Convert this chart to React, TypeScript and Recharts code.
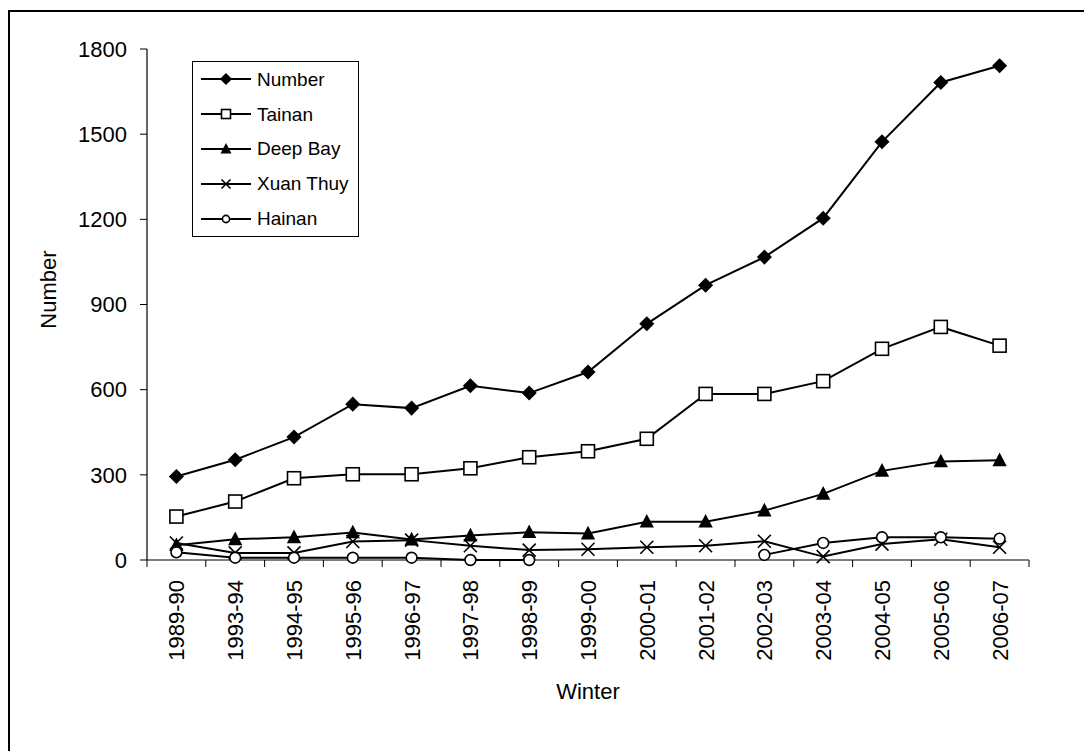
import React from "react";
import { LineChart, Line, XAxis, YAxis, Legend } from "recharts";

// winters surveyed
const winters = [
  "1989-90", "1993-94", "1994-95", "1995-96", "1996-97", "1997-98", "1998-99", "1999-00",
  "2000-01", "2001-02", "2002-03", "2003-04", "2004-05", "2005-06", "2006-07",
];

// counts per site (null = not counted)
const totalNumber = [294, 353, 433, 549, 535, 614, 588, 662, 832, 968, 1067, 1204, 1473, 1682, 1741];
const tainan = [153, 206, 288, 302, 302, 323, 362, 383, 427, 585, 585, 630, 744, 821, 755];
const deepBay = [52, 73, 80, 97, 72, 86, 98, 93, 135, 135, 174, 233, 314, 347, 351];
const xuanThuy = [60, 25, 25, 65, 70, 50, 35, 38, 45, 50, 66, 12, 56, 73, 45];
const hainan = [27, 8, 8, 8, 8, 0, 0, null, null, null, 18, 60, 80, 80, 75];

const yTicks = [0, 300, 600, 900, 1200, 1500, 1800];

const series = [
  { key: "number", name: "Number", values: totalNumber, shape: "diamond" },
  { key: "tainan", name: "Tainan", values: tainan, shape: "square" },
  { key: "deepBay", name: "Deep Bay", values: deepBay, shape: "triangle" },
  { key: "xuanThuy", name: "Xuan Thuy", values: xuanThuy, shape: "cross" },
  { key: "hainan", name: "Hainan", values: hainan, shape: "circle" },
];

const rows = winters.map((w, i) => {
  const row: any = { winter: w };
  series.forEach((s) => (row[s.key] = s.values[i]));
  return row;
});

const FONT = "'Liberation Sans', Arial, sans-serif";
const W = 1084;
const H = 751;
const MARGIN = { top: 49, right: 55, left: 0, bottom: 0 };
const Y_AXIS_W = 147;
const X_AXIS_H = 191;
const TICK_SIZE = 7;
const TICK_GAP = 13;
const BAND = (W - MARGIN.left - MARGIN.right - Y_AXIS_W) / winters.length;

// plot markers and legend markers share one drawing
const plotSize: any = { diamond: 13, square: 13, triangle: 13, cross: 13, circle: 12 };
const legendSize: any = { diamond: 10.5, square: 9, triangle: 10, cross: 9, circle: 8 };

const Marker = ({ cx, cy, shape, size }: any) => {
  if (cx == null || cy == null) return <g />;
  const s = size;
  switch (shape) {
    case "diamond":
      return (
        <polygon
          points={`${cx},${cy - s * 0.58} ${cx + s * 0.58},${cy} ${cx},${cy + s * 0.58} ${cx - s * 0.58},${cy}`}
          fill="#000"
        />
      );
    case "square":
      return (
        <rect x={cx - s / 2} y={cy - s / 2} width={s} height={s} fill="#fff" stroke="#000" strokeWidth={1.6} />
      );
    case "triangle":
      return (
        <polygon
          points={`${cx},${cy - s * 0.6} ${cx + s * 0.55},${cy + s * 0.45} ${cx - s * 0.55},${cy + s * 0.45}`}
          fill="#000"
        />
      );
    case "cross":
      return (
        <g stroke="#000" strokeWidth={1.6}>
          <line x1={cx - s / 2} y1={cy - s / 2} x2={cx + s / 2} y2={cy + s / 2} />
          <line x1={cx - s / 2} y1={cy + s / 2} x2={cx + s / 2} y2={cy - s / 2} />
        </g>
      );
    default:
      return <circle cx={cx} cy={cy} r={s * 0.45} fill="#fff" stroke="#000" strokeWidth={1.6} />;
  }
};

const XTick = (props: any) => {
  const { x, y, payload, index } = props;
  const axisY = y - TICK_SIZE - TICK_GAP;
  const left = x - BAND / 2;
  return (
    <g>
      <line x1={left} y1={axisY} x2={left} y2={axisY + TICK_SIZE} stroke="#000" />
      {index === winters.length - 1 && (
        <line x1={x + BAND / 2} y1={axisY} x2={x + BAND / 2} y2={axisY + TICK_SIZE} stroke="#000" />
      )}
      <text
        transform={`translate(${x},${y}) rotate(-90)`}
        textAnchor="end"
        dy="0.36em"
        fill="#000"
        fontSize={22}
        fontFamily={FONT}
      >
        {payload.value}
      </text>
    </g>
  );
};

const renderYTitle = ({ viewBox }: any) => {
  const cx = viewBox.x + 48;
  const cy = viewBox.y + viewBox.height / 2 - 15;
  return (
    <text
      x={cx}
      y={cy}
      transform={`rotate(-90 ${cx} ${cy})`}
      textAnchor="middle"
      dominantBaseline="central"
      fontSize={22}
      fontFamily={FONT}
      fill="#000"
    >
      Number
    </text>
  );
};

const renderXTitle = ({ viewBox }: any) => (
  <text
    x={viewBox.x + viewBox.width / 2}
    y={viewBox.y + 131}
    textAnchor="middle"
    dominantBaseline="central"
    fontSize={22}
    fontFamily={FONT}
    fill="#000"
  >
    Winter
  </text>
);

const renderLegend = () => (
  <div
    style={{
      border: "1px solid #000",
      background: "#fff",
      width: 165,
      height: 174,
      boxSizing: "content-box",
      fontFamily: FONT,
      fontSize: 19,
    }}
  >
    {series.map((s) => (
      <div key={s.key} style={{ display: "flex", alignItems: "center", height: 34.8 }}>
        <svg width={64} height={20} style={{ flex: "none" }}>
          <line x1={8} y1={10} x2={58} y2={10} stroke="#000" strokeWidth={1.8} />
          <Marker cx={33} cy={10} shape={s.shape} size={legendSize[s.shape]} />
        </svg>
        <span style={{ color: "#000", lineHeight: 1 }}>{s.name}</span>
      </div>
    ))}
  </div>
);

export default function App() {
  return (
    <div style={{ position: "absolute", left: 0, top: 0, width: W, height: H, background: "#fff" }}>
      <div
        style={{
          position: "absolute",
          left: 8,
          top: 10,
          right: 0,
          bottom: 0,
          borderLeft: "2px solid #000",
          borderTop: "2px solid #000",
        }}
      />
      <div style={{ position: "absolute", left: 0, top: 0 }}>
        <LineChart width={W} height={H} data={rows} margin={MARGIN}>
          <XAxis
            dataKey="winter"
            height={X_AXIS_H}
            interval={0}
            padding={{ left: BAND / 2, right: BAND / 2 }}
            tickSize={TICK_SIZE}
            tickMargin={TICK_GAP}
            tickLine={false}
            axisLine={{ stroke: "#000", strokeWidth: 1.2 }}
            tick={<XTick />}
            label={renderXTitle}
          />
          <YAxis
            width={Y_AXIS_W}
            domain={[0, 1800]}
            ticks={yTicks}
            interval={0}
            tickSize={TICK_SIZE}
            tickMargin={TICK_GAP}
            axisLine={{ stroke: "#000", strokeWidth: 1.2 }}
            tickLine={{ stroke: "#000" }}
            tick={{ fill: "#000", fontSize: 22, fontFamily: FONT }}
            label={renderYTitle}
          />
          <Legend
            layout="vertical"
            align="center"
            verticalAlign="middle"
            content={renderLegend}
            wrapperStyle={{ left: 192, top: 61, width: 167, height: 176 }}
          />
          {series.map((s) => (
            <Line
              key={s.key}
              type="linear"
              dataKey={s.key}
              name={s.name}
              stroke="#000"
              strokeWidth={2}
              isAnimationActive={false}
              activeDot={false}
              dot={(p: any) => (
                <Marker
                  key={`${s.key}-${p.index}`}
                  cx={p.cx}
                  cy={p.value == null ? null : p.cy}
                  shape={s.shape}
                  size={plotSize[s.shape]}
                />
              )}
            />
          ))}
        </LineChart>
      </div>
    </div>
  );
}
